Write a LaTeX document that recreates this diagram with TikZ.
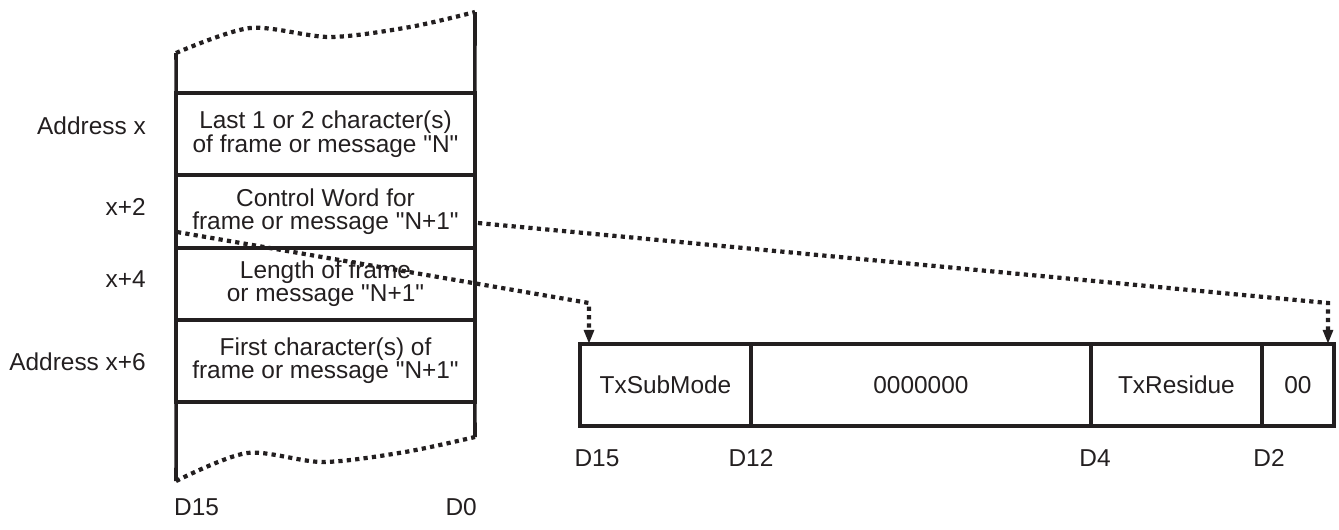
\documentclass[tikz,border=0pt]{standalone}
\usepackage{fontspec}
\setmainfont{Liberation Sans}[Ligatures=TeXOff]
\usetikzlibrary{arrows.meta, positioning}
\definecolor{ink}{RGB}{35,31,32}

\begin{document}
\begin{tikzpicture}[
  x=0.02cm, y=-0.02cm,
  >={Triangle[length=8pt, width=5.5pt]},
  every node/.style={font=\fontsize{13.9}{13.3}\selectfont, text=ink},
  wordcell/.style={draw=ink, line width=2pt, outer sep=0pt, minimum width=5.98cm, align=center},
  fieldcell/.style={draw=ink, line width=2pt, outer sep=0pt, minimum height=1.64cm},
  colline/.style={draw=ink, line width=2pt},
  dotline/.style={draw=ink, line width=2.4pt, dash pattern=on 2.4pt off 2.4pt}
]
\useasboundingbox (0,0) rectangle (1339,529);

% ---- memory words ----
\node[wordcell, minimum height=1.64cm] (w0) at (325.5,134) {Last 1 or 2 character(s)\\of frame or message "N"};
\node[wordcell, minimum height=1.46cm, below=0pt of w0] (w2) {Control Word for\\frame or message "N+1"};
\node[wordcell, minimum height=1.44cm, below=0pt of w2] (w4) {Length of frame\\or message "N+1"};
\node[wordcell, minimum height=1.64cm, below=0pt of w4] (w6) {First character(s) of\\frame or message "N+1"};

% open ends of the column
\draw[colline] (w0.north west) -- (176,53);
\draw[colline] (w0.north east) -- (475,12);
\draw[colline] (w6.south west) -- (176,481);
\draw[colline] (w6.south east) -- (475,437);
\draw[dotline] plot[smooth] coordinates {(176,53) (250,28) (330,37) (410,27) (475,12)};
\draw[dotline] plot[smooth] coordinates {(176,481) (247,453) (323,462) (405,452) (475,437)};

% address labels
\node[anchor=east] (ax) at (152,126) {Address x};
\node[anchor=east] (ax2) at (152,207) {x+2};
\node[anchor=east] (ax4) at (152,279) {x+4};
\node[anchor=east] (ax6) at (152,362) {Address x+6};

\node[anchor=west] (cd15) at (168,507) {D15};
\node[anchor=east] (cd0) at (483,507) {D0};

% ---- control word fields ----
\node[fieldcell, minimum width=3.42cm] (sub) at (665.5,385) {TxSubMode};
\node[fieldcell, minimum width=6.8cm, right=0pt of sub] (zero) {0000000};
\node[fieldcell, minimum width=3.42cm, right=0pt of zero] (res) {TxResidue};
\node[fieldcell, minimum width=1.44cm, right=0pt of res] (res2) {00};

\node (d15) at (597,458) {D15};
\node (d12) at (751,458) {D12};
\node (d4) at (1095,458) {D4};
\node (d2) at (1269,458) {D2};

% ---- pointers ----
\coordinate (p1) at (177,232);
\coordinate (k1) at (589,303);
\coordinate (p2) at (478,223);
\coordinate (k2) at (1328,303);
\draw[dotline, ->] (p1) -- (k1) -- (k1 |- sub.north);
\draw[dotline, ->] (p2) -- (k2) -- (k2 |- res2.north);
\end{tikzpicture}
\end{document}
